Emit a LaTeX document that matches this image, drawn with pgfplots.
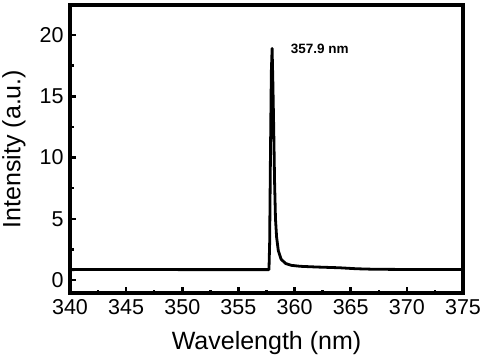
\documentclass[border=0pt]{standalone}
\usepackage{fontspec}
\setmainfont{Liberation Sans}
\usepackage{pgfplots}
\pgfplotsset{compat=1.18}
\begin{document}
\begin{tikzpicture}
\useasboundingbox (-70pt,-67pt) rectangle (419pt,293pt);
\begin{axis}[
  at={(0pt,0pt)}, anchor=south west,
  scale only axis, width=393pt, height=288pt,
  xmin=340, xmax=375, ymin=-1.06, ymax=22.45,
  xtick={340,345,...,375}, ytick={0,5,10,15,20},
  minor x tick num=1, minor y tick num=1,
  xtick pos=bottom, ytick pos=left, tick align=inside,
  major tick length=6pt, minor tick length=3.5pt,
  every tick/.style={line width=2.5pt, black},
  axis line style={line width=3.4pt},
  /pgf/number format/assume math mode=true,
  tick label style={font=\fontsize{21.5}{25}\selectfont},
  xticklabel style={yshift=-3pt},
  yticklabel style={xshift=-3pt},
  xlabel={Wavelength (nm)}, ylabel={Intensity (a.u.)},
  label style={font=\fontsize{25}{29}\selectfont},
  xlabel style={at={(axis description cs:0.5,-0.1736)}, anchor=center},
  ylabel style={at={(axis description cs:-0.1425,0.5)}, anchor=center},
  clip=false,
]
\addplot[black, line width=2.8pt, line join=round] coordinates {
(340,0.85) (345,0.86) (350,0.85) (355,0.85) (357.72,0.85)
(357.78,3) (357.85,10) (357.93,17) (358.0,18.9) (358.07,16)
(358.15,12) (358.22,8) (358.3,5) (358.4,3.5) (358.55,2.4)
(358.8,1.7) (359.2,1.35) (359.7,1.2) (360.5,1.12) (362,1.06)
(364,1.0) (365.5,0.92) (367,0.88) (370,0.86) (375,0.86)
};
\node[font=\bfseries\fontsize{13.5}{16}\selectfont, anchor=west] at (axis cs:359.35,18.9) {357.9 nm};
\end{axis}
\end{tikzpicture}
\end{document}
